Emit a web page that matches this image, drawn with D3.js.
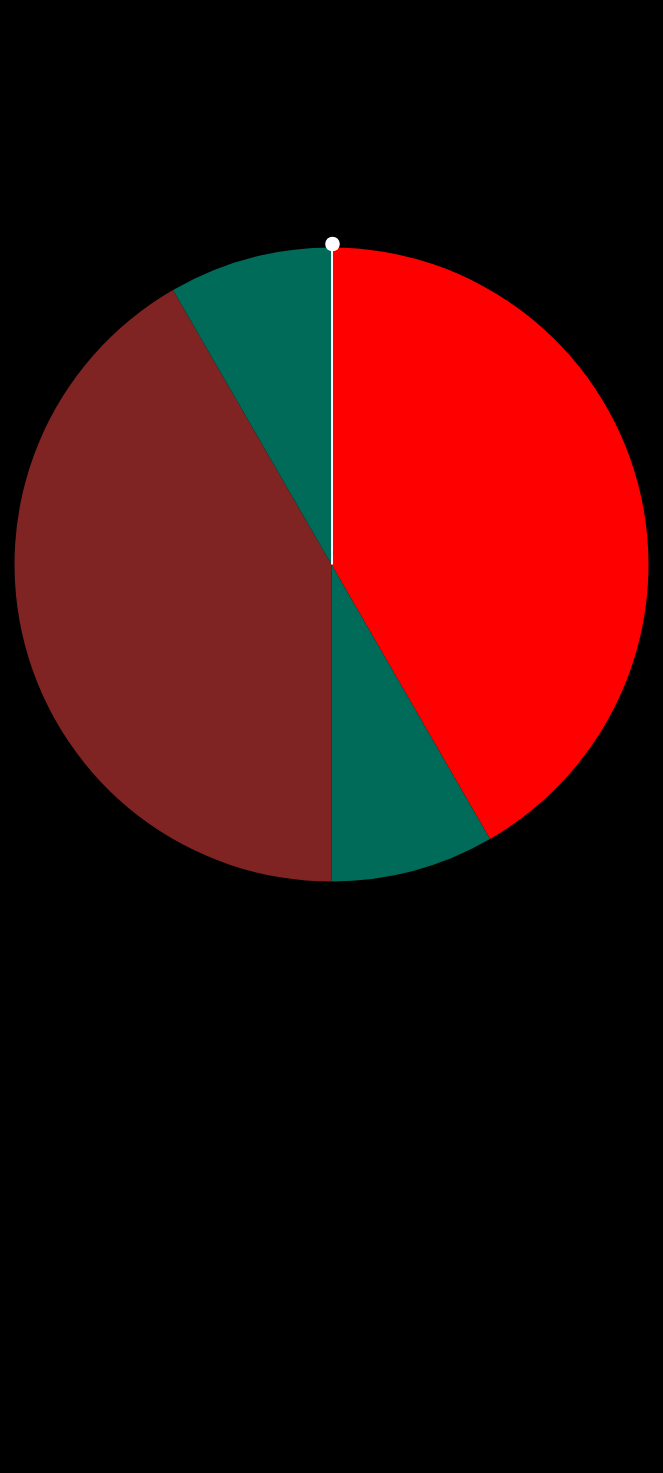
<!DOCTYPE html>
<html>
<head>
<meta charset="utf-8">
<script src="https://cdn.jsdelivr.net/npm/d3@7"></script>
<style>
html,body{margin:0;padding:0;background:#000;}
svg{display:block;}
</style>
</head>
<body>
<svg id="chart" width="663" height="1473"></svg>
<script>
const categories = ["A", "B", "C", "D"];
const values = [5, 1, 5, 1];
const colors = ["#ff0000", "#016b5a", "#7f2323", "#016b5a"];
const pointerValue = 0;

const W = 663, H = 1473;
const cx = 331.5, cy = 564.5, R = 317;

const svg = d3.select("#chart");
svg.append("rect").attr("width", W).attr("height", H).attr("fill", "#000");

const g = svg.append("g").attr("transform", `translate(${cx},${cy})`);

const data = categories.map((c, i) => ({ cat: c, value: values[i], color: colors[i] }));
const pie = d3.pie().sort(null).value(d => d.value);
const arc = d3.arc().innerRadius(0).outerRadius(R);

g.selectAll("path.slice")
  .data(pie(data))
  .join("path")
  .attr("class", "slice")
  .attr("d", arc)
  .attr("fill", d => d.data.color);

// pointer / needle
const total = d3.sum(values);
const angle = d3.scaleLinear().domain([0, total]).range([0, 2 * Math.PI]);
const a = angle(pointerValue);
const rDot = 320.5;
g.append("line")
  .attr("x1", 0.5).attr("y1", 0)
  .attr("x2", 0.5 + rDot * Math.sin(a)).attr("y2", -rDot * Math.cos(a))
  .attr("stroke", "#fff").attr("stroke-width", 2);
g.append("circle")
  .attr("cx", 1 + rDot * Math.sin(a)).attr("cy", -rDot * Math.cos(a))
  .attr("r", 7.3).attr("fill", "#fff");
</script>
</body>
</html>
